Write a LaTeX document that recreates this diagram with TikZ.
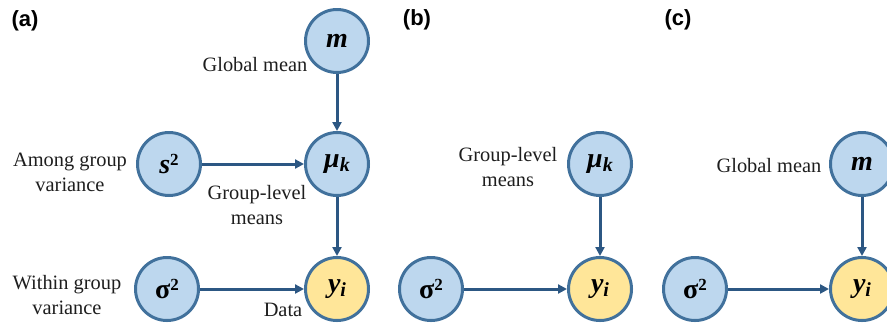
\documentclass[tikz,border=0pt]{standalone}
\usepackage{fontspec}
\setmainfont{Liberation Serif}
\newfontfamily\panelfont{Liberation Sans}
\usetikzlibrary{arrows.meta}

\definecolor{nodeblue}{HTML}{BDD7EE}
\definecolor{nodeyellow}{HTML}{FFE699}
\definecolor{rimblue}{HTML}{41719C}
\definecolor{edgeblue}{HTML}{2C5783}
\definecolor{inkgray}{HTML}{1E1E1E}

\newcommand{\sym}[1]{{\fontsize{14}{14}\selectfont\bfseries\itshape #1}}
\newcommand{\lowidx}[1]{\raisebox{-0.4ex}{\fontsize{10}{10}\selectfont\bfseries\itshape #1}}
\newcommand{\highidx}[1]{\raisebox{0.8ex}{\fontsize{8.5}{8.5}\selectfont\bfseries #1}}
\newcommand{\sig}{{\fontsize{14}{14}\selectfont\bfseries σ}}

\tikzset{
  param/.style={circle, draw=rimblue, line width=1.5pt, fill=nodeblue,
    minimum size=31.5pt, inner sep=0pt, text=black},
  datum/.style={param, fill=nodeyellow},
  caption/.style={font=\fontsize{10.2}{12.5}\selectfont, align=center,
    inner sep=0pt, text=inkgray},
  panel/.style={font=\panelfont\bfseries\fontsize{11}{12}\selectfont, inner sep=0pt},
  link/.style={draw=edgeblue, line width=1.5pt,
    -{Triangle[length=4.5pt,width=4.5pt]}},
}

\begin{document}
\begin{tikzpicture}[x=0.5pt,y=-0.5pt]
\useasboundingbox (0,0) rectangle (887,323);

% panel (a): full hierarchical model
\node[panel] (la) at (25,21) {(a)};
\node[param] (ma) at (337,41) {\sym{m}};
\node[param] (mua) at (337,164) {\sym{μ}\lowidx{k}};
\node[param] (sa) at (169,164) {\sym{s}\highidx{2}};
\node[param] (siga) at (167,289) {\sig\highidx{2}};
\node[datum] (ya) at (337,289) {\sym{y}\lowidx{i}};

\node[caption] (ga) at (255,65) {Global mean};
\node[caption] (aga) at (70,172) {Among group\\variance};
\node[caption] (gla) at (257,205) {Group-level\\means};
\node[caption] (wga) at (67,295) {Within group\\variance};
\node[caption] (da) at (283,310) {Data};

\draw[link] (ma) -- (mua);
\draw[link] (sa) -- (mua);
\draw[link] (mua) -- (ya);
\draw[link] (siga) -- (ya);

% panel (b): group-level means only
\node[panel] (lb) at (417,20) {(b)};
\node[param] (mub) at (600,164) {\sym{μ}\lowidx{k}};
\node[param] (sigb) at (431,289) {\sig\highidx{2}};
\node[datum] (yb) at (600,289) {\sym{y}\lowidx{i}};
\node[caption] (glb) at (508,167) {Group-level\\means};

\draw[link] (mub) -- (yb);
\draw[link] (sigb) -- (yb);

% panel (c): single global mean
\node[panel] (lc) at (678,20) {(c)};
\node[param] (mc) at (862,164) {\sym{m}};
\node[param] (sigc) at (695,289) {\sig\highidx{2}};
\node[datum] (yc) at (862,289) {\sym{y}\lowidx{i}};
\node[caption] (gc) at (769,166) {Global mean};

\draw[link] (mc) -- (yc);
\draw[link] (sigc) -- (yc);
\end{tikzpicture}
\end{document}
